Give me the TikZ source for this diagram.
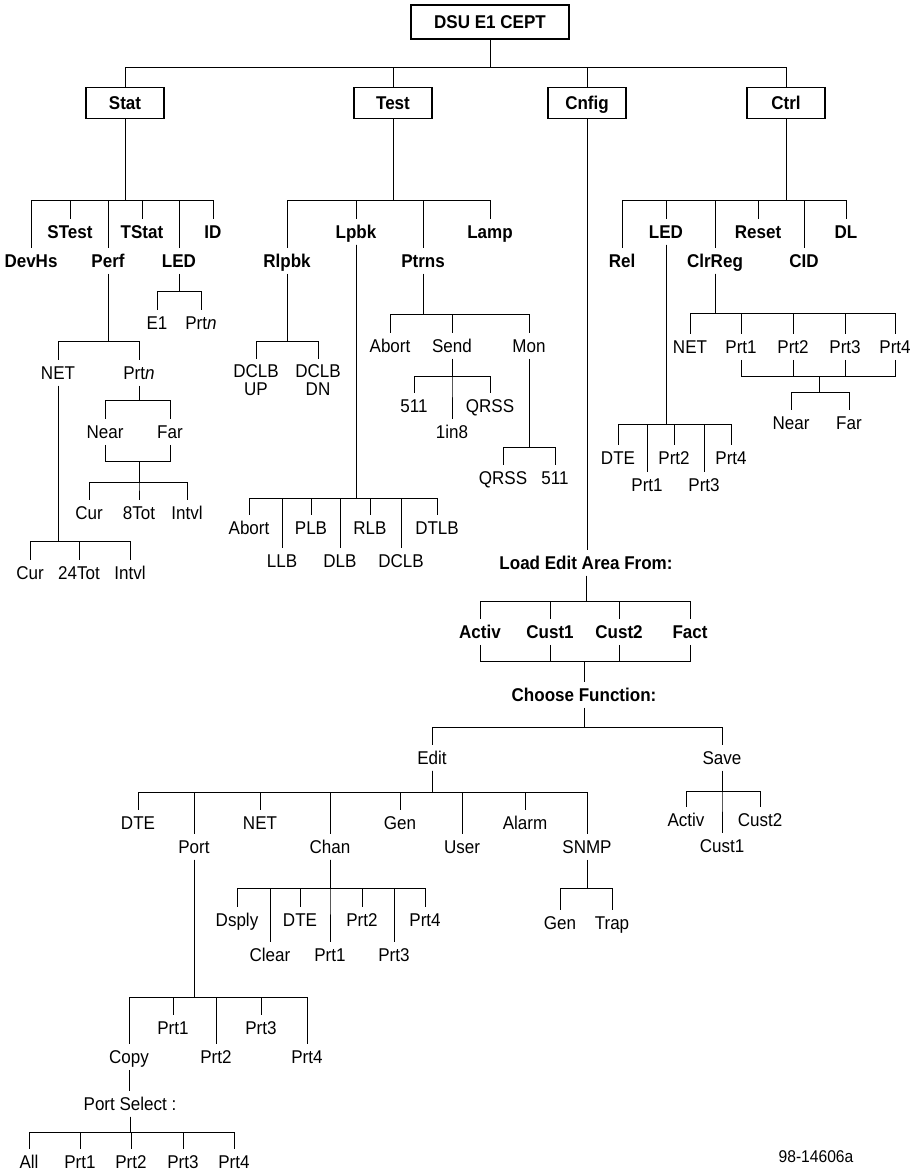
\documentclass[tikz,border=0pt]{standalone}
\usepackage{fontspec}
\setmainfont{Liberation Sans}[FakeStretch=0.92]
\newcommand\lblfont{\fontsize{18.5}{18}\selectfont}
\newcommand\idfont{\fontsize{17}{17}\selectfont}
\tikzset{
  menubox/.style={draw, line width=1.6pt, font=\lblfont\bfseries, minimum width=78pt, minimum height=31pt,
    inner sep=2pt, outer sep=0pt, text height=13.5pt, text depth=0pt},
  lbl/.style={font=\lblfont, inner sep=0pt, outer sep=6pt, text height=13.5pt, text depth=0pt},
  blbl/.style={lbl, font=\lblfont\bfseries},
  lbltwo/.style={font=\lblfont, inner sep=0pt, outer sep=6pt, align=center},
}
\begin{document}
\begin{tikzpicture}[x=1pt,y=-1pt,line width=1pt]
\useasboundingbox (0,0) rectangle (922,1173);

% main menu
\node[menubox, minimum width=158pt, minimum height=34pt] (dsu) at (490,22) {DSU E1 CEPT};
\node[menubox] (stat) at (125,103) {Stat};
\node[menubox] (test) at (393,103) {Test};
\node[menubox] (cnfig) at (587,103) {Cnfig};
\node[menubox] (ctrl) at (786,103) {Ctrl};
\foreach \n in {stat,test,cnfig,ctrl}
  \draw (dsu.south) |- (\n |- 0,67) -- (\n.north);

% Stat branch
\node[blbl] (devhs) at (31,261) {DevHs};
\node[blbl] (stest) at (70,232) {STest};
\node[blbl] (perf) at (108,261) {Perf};
\node[blbl] (tstat) at (142,232) {TStat};
\node[blbl] (sled) at (179,261) {LED};
\node[blbl] (sid) at (213,232) {ID};
\foreach \n in {devhs,stest,perf,tstat,sled,sid}
  \draw (stat.south) |- (\n |- 0,200) -- (\n.north);

\node[lbl] (slede) at (157,323) {E1};
\node[lbl] (sledp) at (201,323) {Prt\textit{n}};
\foreach \n in {slede,sledp}
  \draw (sled.south) |- (\n |- 0,291) -- (\n.north);

\node[lbl] (pfnet) at (58,373) {NET};
\node[lbl] (pfprt) at (139,373) {Prt\textit{n}};
\foreach \n in {pfnet,pfprt}
  \draw (perf.south) |- (\n |- 0,341) -- (\n.north);

\node[lbl] (pfnear) at (105,432) {Near};
\node[lbl] (pffar) at (170,432) {Far};
\foreach \n in {pfnear,pffar}
  \draw (pfprt.south) |- (\n |- 0,400) -- (\n.north);
\coordinate (pfjoin) at (139,461);
\foreach \n in {pfnear,pffar}
  \draw (\n.south) |- (pfjoin);

\node[lbl] (pfcur) at (89,513) {Cur};
\node[lbl] (pftot) at (139,513) {8Tot};
\node[lbl] (pfint) at (187,513) {Intvl};
\foreach \n in {pfcur,pftot,pfint}
  \draw (pfjoin) |- (\n |- 0,482) -- (\n.north);

\node[lbl] (ntcur) at (30,573) {Cur};
\node[lbl] (nttot) at (79,573) {24Tot};
\node[lbl] (ntint) at (130,573) {Intvl};
\foreach \n in {ntcur,nttot,ntint}
  \draw (pfnet.south) |- (\n |- 0,541) -- (\n.north);

% Test branch
\node[blbl] (rlpbk) at (287,261) {Rlpbk};
\node[blbl] (lpbk) at (356,232) {Lpbk};
\node[blbl] (ptrns) at (423,261) {Ptrns};
\node[blbl] (lamp) at (490,232) {Lamp};
\foreach \n in {rlpbk,lpbk,ptrns,lamp}
  \draw (test.south) |- (\n |- 0,200) -- (\n.north);

\node[lbltwo, anchor=north] (rlup) at (256,359) {DCLB\\UP};
\node[lbltwo, anchor=north] (rldn) at (318,359) {DCLB\\DN};
\foreach \n in {rlup,rldn}
  \draw (rlpbk.south) |- (\n |- 0,341) -- (\n.north);

\node[lbl] (lbabort) at (249,528) {Abort};
\node[lbl] (lbllb) at (282,561) {LLB};
\node[lbl] (lbplb) at (311,528) {PLB};
\node[lbl] (lbdlb) at (340,561) {DLB};
\node[lbl] (lbrlb) at (370,528) {RLB};
\node[lbl] (lbdclb) at (401,561) {DCLB};
\node[lbl] (lbdtlb) at (437,528) {DTLB};
\foreach \n in {lbabort,lbllb,lbplb,lbdlb,lbrlb,lbdclb,lbdtlb}
  \draw (lpbk.south) |- (\n |- 0,498) -- (\n.north);

\node[lbl] (ptabort) at (390,346) {Abort};
\node[lbl] (ptsend) at (452,346) {Send};
\node[lbl] (ptmon) at (529,346) {Mon};
\foreach \n in {ptabort,ptsend,ptmon}
  \draw (ptrns.south) |- (\n |- 0,314) -- (\n.north);

\node[lbl] (sdfive) at (414,406) {511};
\node[lbl] (sdone) at (452,432) {1in8};
\node[lbl] (sdqrss) at (490,406) {QRSS};
\foreach \n in {sdfive,sdone,sdqrss}
  \draw (ptsend.south) |- (\n |- 0,376) -- (\n.north);

\node[lbl] (mnqrss) at (503,478) {QRSS};
\node[lbl] (mnfive) at (555,478) {511};
\foreach \n in {mnqrss,mnfive}
  \draw (ptmon.south) |- (\n |- 0,447) -- (\n.north);

% Cnfig branch
\node[blbl] (load) at (586,563) {Load Edit Area From:};
\draw (cnfig.south) -- (cnfig.south |- load.north);

\node[blbl] (ldactiv) at (480,632) {Activ};
\node[blbl] (ldcusta) at (550,632) {Cust1};
\node[blbl] (ldcustb) at (619,632) {Cust2};
\node[blbl] (ldfact) at (690,632) {Fact};
\node[blbl] (choose) at (584,695) {Choose Function:};
\foreach \n in {ldactiv,ldcusta,ldcustb,ldfact} {
  \draw (load.south) |- (\n |- 0,601) -- (\n.north);
  \draw (\n.south) |- (choose |- 0,661) -- (choose.north);
}

\node[lbl] (edit) at (432,758) {Edit};
\node[lbl] (save) at (722,758) {Save};
\foreach \n in {edit,save}
  \draw (choose.south) |- (\n |- 0,727) -- (\n.north);

\node[lbl] (edte) at (138,823) {DTE};
\node[lbl] (eport) at (194,847) {Port};
\node[lbl] (enet) at (260,823) {NET};
\node[lbl] (echan) at (330,847) {Chan};
\node[lbl] (egen) at (400,823) {Gen};
\node[lbl] (euser) at (462,847) {User};
\node[lbl] (ealarm) at (525,823) {Alarm};
\node[lbl] (esnmp) at (587,847) {SNMP};
\foreach \n in {edte,eport,enet,echan,egen,euser,ealarm,esnmp}
  \draw (edit.south) |- (\n |- 0,792) -- (\n.north);

\node[lbl] (chdsply) at (237,920) {Dsply};
\node[lbl] (chclear) at (270,955) {Clear};
\node[lbl] (chdte) at (300,920) {DTE};
\node[lbl] (chpa) at (330,955) {Prt1};
\node[lbl] (chpb) at (362,920) {Prt2};
\node[lbl] (chpc) at (394,955) {Prt3};
\node[lbl] (chpd) at (425,920) {Prt4};
\foreach \n in {chdsply,chclear,chdte,chpa,chpb,chpc,chpd}
  \draw (echan.south) |- (\n |- 0,888) -- (\n.north);

\node[lbl] (sngen) at (560,923) {Gen};
\node[lbl] (sntrap) at (612,923) {Trap};
\foreach \n in {sngen,sntrap}
  \draw (esnmp.south) |- (\n |- 0,888) -- (\n.north);

\node[lbl] (svactiv) at (686,820) {Activ};
\node[lbl] (svcusta) at (722,846) {Cust1};
\node[lbl] (svcustb) at (760,820) {Cust2};
\foreach \n in {svactiv,svcusta,svcustb}
  \draw (save.south) |- (\n |- 0,791) -- (\n.north);

\node[lbl] (pocopy) at (129,1057) {Copy};
\node[lbl] (popa) at (173,1028) {Prt1};
\node[lbl] (popb) at (216,1057) {Prt2};
\node[lbl] (popc) at (261,1028) {Prt3};
\node[lbl] (popd) at (307,1057) {Prt4};
\foreach \n in {pocopy,popa,popb,popc,popd}
  \draw (eport.south) |- (\n |- 0,997) -- (\n.north);

\node[lbl] (psel) at (130,1104) {Port Select :};
\draw (pocopy.south) -- (pocopy.south |- psel.north);

\node[lbl] (psall) at (29,1162) {All};
\node[lbl] (pspa) at (80,1162) {Prt1};
\node[lbl] (pspb) at (131,1162) {Prt2};
\node[lbl] (pspc) at (183,1162) {Prt3};
\node[lbl] (pspd) at (234,1162) {Prt4};
\foreach \n in {psall,pspa,pspb,pspc,pspd}
  \draw (psel.south) |- (\n |- 0,1132) -- (\n.north);

% Ctrl branch
\node[blbl] (crel) at (622,261) {Rel};
\node[blbl] (cled) at (666,232) {LED};
\node[blbl] (cclr) at (715,261) {ClrReg};
\node[blbl] (creset) at (758,232) {Reset};
\node[blbl] (ccid) at (804,261) {CID};
\node[blbl] (cdl) at (846,232) {DL};
\foreach \n in {crel,cled,cclr,creset,ccid,cdl}
  \draw (ctrl.south) |- (\n |- 0,200) -- (\n.north);

\node[lbl] (crnet) at (690,347) {NET};
\node[lbl] (crpa) at (741,347) {Prt1};
\node[lbl] (crpb) at (793,347) {Prt2};
\node[lbl] (crpc) at (845,347) {Prt3};
\node[lbl] (crpd) at (895,347) {Prt4};
\foreach \n in {crnet,crpa,crpb,crpc,crpd}
  \draw (cclr.south) |- (\n |- 0,313) -- (\n.north);
\coordinate (crjoin) at (819,376);
\foreach \n in {crpa,crpb,crpc,crpd}
  \draw (\n.south) |- (crjoin);

\node[lbl] (crnear) at (791,423) {Near};
\node[lbl] (crfar) at (849,423) {Far};
\foreach \n in {crnear,crfar}
  \draw (crjoin) |- (\n |- 0,392) -- (\n.north);

\node[lbl] (cldte) at (618,458) {DTE};
\node[lbl] (clpa) at (647,485) {Prt1};
\node[lbl] (clpb) at (674,458) {Prt2};
\node[lbl] (clpc) at (704,485) {Prt3};
\node[lbl] (clpd) at (731,458) {Prt4};
\foreach \n in {cldte,clpa,clpb,clpc,clpd}
  \draw (cled.south) |- (\n |- 0,424) -- (\n.north);

\node[font=\idfont] (figid) at (816,1157) {98-14606a};

\end{tikzpicture}
\end{document}
